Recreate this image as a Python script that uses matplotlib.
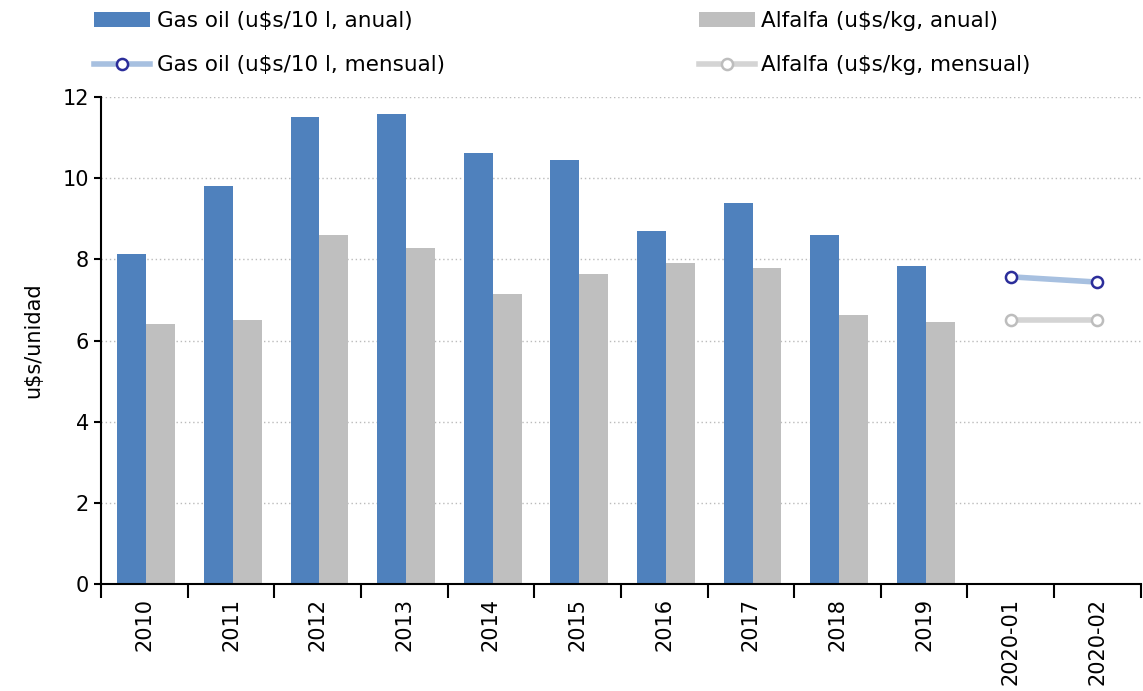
import numpy as np
import matplotlib.pyplot as plt

categories = ["2010", "2011", "2012", "2013", "2014", "2015", "2016", "2017",
              "2018", "2019", "2020-01", "2020-02"]
gasoil_anual = [8.13, 9.81, 11.5, 11.58, 10.62, 10.45, 8.7, 9.39, 8.6, 7.84]
alfalfa_anual = [6.41, 6.5, 8.6, 8.28, 7.15, 7.64, 7.91, 7.79, 6.63, 6.46]
gasoil_mensual = [7.57, 7.44]
alfalfa_mensual = [6.5, 6.5]

fig = plt.figure(figsize=(11.43, 6.91), dpi=100)
ax = fig.add_axes([0.0884, 0.1548, 0.9096, 0.7048])

x = np.arange(len(categories))
xa = x[:len(gasoil_anual)]
xm = x[len(gasoil_anual):]
w = 0.333

b1 = ax.bar(xa - w / 2 + 0.02, gasoil_anual, w, color="#4F81BD", label="Gas oil (u$s/10 l, anual)")
b2 = ax.bar(xa + w / 2 + 0.02, alfalfa_anual, w, color="#BFBFBF", label="Alfalfa (u$s/kg, anual)")
l1, = ax.plot(xm, gasoil_mensual, color="#A7C0E0", lw=4, marker="o", ms=8,
              mfc="white", mec="#2B2D9A", mew=1.8, label="Gas oil (u$s/10 l, mensual)")
l2, = ax.plot(xm, alfalfa_mensual, color="#D4D4D4", lw=4, marker="o", ms=8,
              mfc="white", mec="#BDBDBD", mew=1.8, label="Alfalfa (u$s/kg, mensual)")

ax.set_xlim(-0.5, len(categories) - 0.5)
ax.set_ylim(0, 12)
ax.set_yticks(range(0, 13, 2))
ax.yaxis.grid(True, linestyle=(0, (1, 2)), color="#BBBBBB", lw=1)
ax.set_axisbelow(True)

ax.set_xticks(np.arange(-0.5, len(categories), 1))
ax.set_xticklabels([])
ax.set_xticks(x, minor=True)
ax.set_xticklabels(categories, minor=True, rotation=90, fontsize=15)
ax.tick_params(axis="x", which="major", length=10, width=1.5, direction="out")
ax.tick_params(axis="x", which="minor", length=0, pad=10)
ax.tick_params(axis="y", length=5, width=1.5, labelsize=15)

for s in ["top", "right"]:
    ax.spines[s].set_visible(False)
for s in ["left", "bottom"]:
    ax.spines[s].set_linewidth(1.5)

ax.set_ylabel("u$s/unidad", fontsize=15, labelpad=14)

leg_kw = dict(loc="upper left", frameon=False, fontsize=15.5, handlelength=2.6,
              handletextpad=0.3, labelspacing=1.15, borderaxespad=0)
fig.legend(handles=[b1, l1], bbox_to_anchor=(0.075, 0.997), **leg_kw)
fig.legend(handles=[b2, l2], bbox_to_anchor=(0.604, 0.997), **leg_kw)

fig.savefig("out.png", dpi=100)
